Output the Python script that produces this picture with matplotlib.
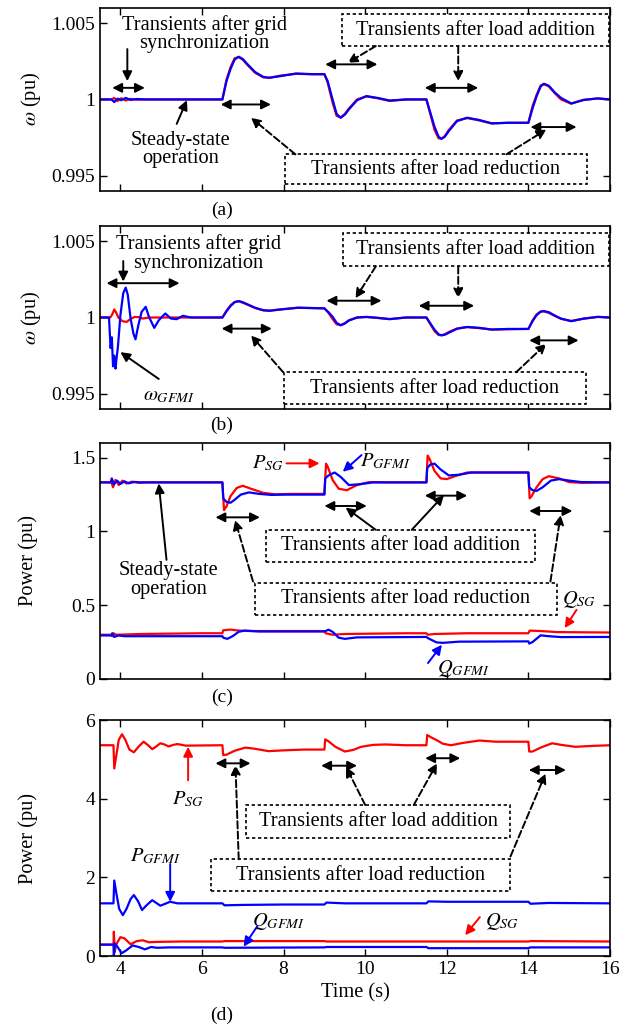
import matplotlib
matplotlib.use("Agg")
import matplotlib.pyplot as plt
from matplotlib.patches import Rectangle

plt.rcParams['font.family'] = ['Liberation Serif', 'DejaVu Serif']
plt.rcParams['mathtext.fontset'] = 'stix'
plt.rcParams['font.size'] = 14.7

# ---- data: (time s, value) ----
omega_a_sg = [(3.5, 1.0), (3.78, 1.0), (3.85, 1.0001), (3.93, 0.9999), (4.02, 1.00008), (4.13, 0.99993),
              (4.25, 1.00004), (4.4, 0.99998), (4.6, 1.0), (6.5, 1.0), (6.6, 1.0013), (6.7, 1.00212),
              (6.8, 1.0027), (6.9, 1.00278), (7.0, 1.0026), (7.1, 1.0023), (7.3, 1.00175), (7.5, 1.00145),
              (7.65, 1.00142), (7.9, 1.00155), (8.3, 1.00168), (8.7, 1.00165), (9.0, 1.00165), (9.08, 1.0011),
              (9.2, 0.9998), (9.3, 0.99892), (9.4, 0.99882), (9.5, 0.99905), (9.6, 0.9994), (9.8, 1.0),
              (10.03, 1.0002), (10.3, 1.00008), (10.6, 0.9999), (11.0, 1.0), (11.5, 1.0), (11.6, 0.999),
              (11.7, 0.998), (11.8, 0.99745), (11.87, 0.99742), (11.95, 0.9976), (12.05, 0.998), (12.25, 0.99862),
              (12.5, 0.99878), (12.8, 0.99862), (13.1, 0.99843), (13.5, 0.99847), (14.0, 0.99847), (14.1, 0.99955),
              (14.2, 1.0003), (14.3, 1.00092), (14.38, 1.001), (14.5, 1.00085), (14.65, 1.0004), (14.8, 1.0),
              (15.05, 0.99972), (15.35, 0.99998), (15.7, 1.00006), (16.0, 1.0)]
omega_a_gfmi = [(3.5, 1.0), (3.78, 1.0), (3.85, 0.99983), (3.93, 1.00005), (4.02, 0.99995), (4.13, 1.0001),
                (4.25, 0.99997), (4.4, 1.00003), (4.6, 1.0), (6.5, 1.0), (6.6, 1.0012), (6.7, 1.002),
                (6.8, 1.00262), (6.9, 1.0028), (7.0, 1.00265), (7.1, 1.00235), (7.3, 1.0018), (7.5, 1.00148),
                (7.65, 1.00142), (7.9, 1.00152), (8.3, 1.0017), (8.7, 1.00166), (9.0, 1.00166), (9.08, 1.0012),
                (9.2, 1.0), (9.3, 0.99905), (9.4, 0.9988), (9.5, 0.999), (9.6, 0.99935), (9.8, 0.99995),
                (10.03, 1.00022), (10.3, 1.0001), (10.6, 0.99993), (11.0, 1.0), (11.5, 1.0), (11.6, 0.9991),
                (11.7, 0.9982), (11.8, 0.99755), (11.87, 0.99742), (11.95, 0.99755), (12.05, 0.99793),
                (12.25, 0.99858), (12.5, 0.9988), (12.8, 0.99865), (13.1, 0.99843), (13.5, 0.99847),
                (14.0, 0.99847), (14.1, 0.9994), (14.2, 1.0002), (14.3, 1.00085), (14.38, 1.00103),
                (14.5, 1.0009), (14.65, 1.00045), (14.8, 1.0001), (15.05, 0.99974), (15.35, 0.99996),
                (15.7, 1.00007), (16.0, 1.0)]

omega_b_sg = [(3.5, 1.0), (3.75, 1.0), (3.8, 1.0002), (3.85, 1.00053), (3.9, 1.0003), (3.95, 1.0), (4.05, 0.99976),
              (4.15, 0.99971), (4.25, 0.9999), (4.35, 1.00004), (4.45, 1.00002), (4.55, 0.99993), (4.7, 1.0),
              (6.5, 1.0), (6.6, 1.00045), (6.7, 1.0008), (6.8, 1.00102), (6.9, 1.00106), (7.0, 1.00097),
              (7.15, 1.0008), (7.3, 1.00062), (7.5, 1.00047), (7.65, 1.00045), (7.95, 1.00054), (8.35, 1.00064),
              (9.0, 1.0006), (9.1, 1.0003), (9.2, 0.9999), (9.3, 0.99955), (9.4, 0.9995), (9.5, 0.99963),
              (9.6, 0.99982), (9.8, 1.0), (10.03, 1.00003), (10.3, 0.99997), (10.6, 0.9999), (11.0, 1.0),
              (11.5, 1.0), (11.6, 0.99955), (11.7, 0.9991), (11.8, 0.99885), (11.87, 0.99884), (11.95, 0.9989),
              (12.05, 0.99905), (12.25, 0.99928), (12.5, 0.99937), (12.8, 0.9993), (13.1, 0.99921),
              (14.0, 0.99925), (14.1, 0.9998), (14.2, 1.0002), (14.3, 1.0004), (14.38, 1.0004), (14.5, 1.0003),
              (14.65, 1.0001), (14.8, 0.99991), (15.05, 0.99977), (15.35, 0.99993), (15.7, 1.00004), (16.0, 1.0)]
omega_b_gfmi = [(3.5, 1.0), (3.72, 1.0), (3.76, 0.998), (3.79, 0.9987), (3.82, 0.9968), (3.85, 0.9975),
                (3.88, 0.99665), (3.9, 0.9972), (3.94, 0.9981), (4.0, 1.00015), (4.07, 1.0016), (4.13, 1.00196),
                (4.18, 1.0015), (4.25, 0.99993), (4.32, 0.99894), (4.37, 0.99857), (4.44, 0.99949),
                (4.52, 1.00037), (4.62, 1.0007), (4.7, 1.00004), (4.83, 0.99932), (4.94, 0.99982), (5.1, 1.00026),
                (5.24, 0.99993), (5.38, 0.99989), (5.53, 1.00011), (5.73, 1.0), (6.0, 1.0), (6.5, 1.0),
                (6.6, 1.0004), (6.7, 1.00075), (6.8, 1.001), (6.9, 1.00108), (7.0, 1.001), (7.15, 1.00082),
                (7.3, 1.00064), (7.5, 1.00048), (7.65, 1.00044), (7.95, 1.00053), (8.35, 1.00064), (9.0, 1.0006),
                (9.1, 1.00035), (9.2, 1.00005), (9.3, 0.99965), (9.4, 0.99949), (9.5, 0.9996), (9.6, 0.9998),
                (9.8, 1.0), (10.03, 1.00004), (10.3, 0.99998), (10.6, 0.99989), (11.0, 1.0), (11.5, 1.0),
                (11.6, 0.9996), (11.7, 0.9992), (11.8, 0.9989), (11.87, 0.99883), (11.95, 0.99887),
                (12.05, 0.999), (12.25, 0.99926), (12.5, 0.99938), (12.8, 0.99932), (13.1, 0.99921),
                (13.5, 0.99925), (14.0, 0.99925), (14.1, 0.99975), (14.2, 1.00015), (14.3, 1.00038),
                (14.38, 1.00042), (14.5, 1.00035), (14.65, 1.00012), (14.8, 0.99993), (15.05, 0.99976),
                (15.35, 0.99992), (15.7, 1.00004), (16.0, 1.0)]

p_c_sg = [(3.5, 1.333), (3.78, 1.333), (3.82, 1.30), (3.88, 1.35), (3.96, 1.315), (4.05, 1.345), (4.15, 1.325),
          (4.28, 1.338), (4.45, 1.33), (4.65, 1.333), (6.5, 1.333), (6.54, 1.145), (6.6, 1.17), (6.7, 1.24),
          (6.85, 1.295), (7.0, 1.31), (7.2, 1.29), (7.5, 1.262), (7.8, 1.252), (8.2, 1.255), (9.0, 1.255),
          (9.04, 1.46), (9.08, 1.44), (9.2, 1.35), (9.35, 1.29), (9.55, 1.28), (9.8, 1.315), (10.1, 1.335),
          (10.5, 1.333), (11.5, 1.333), (11.53, 1.515), (11.58, 1.49), (11.7, 1.41), (11.85, 1.36),
          (12.0, 1.355), (12.2, 1.375), (12.5, 1.40), (12.9, 1.40), (14.0, 1.40), (14.03, 1.225), (14.08, 1.24),
          (14.2, 1.30), (14.35, 1.355), (14.5, 1.375), (14.75, 1.36), (15.0, 1.335), (15.3, 1.33), (16.0, 1.333)]
p_c_gfmi = [(3.5, 1.333), (3.76, 1.333), (3.79, 1.36), (3.84, 1.32), (3.92, 1.345), (4.0, 1.322), (4.1, 1.34),
            (4.2, 1.327), (4.35, 1.336), (4.5, 1.333), (6.5, 1.333), (6.52, 1.225), (6.6, 1.2), (6.7, 1.195),
            (6.8, 1.215), (6.95, 1.25), (7.15, 1.265), (7.4, 1.255), (7.7, 1.248), (8.0, 1.25), (9.0, 1.25),
            (9.02, 1.36), (9.1, 1.38), (9.25, 1.40), (9.4, 1.37), (9.6, 1.315), (9.85, 1.32), (10.2, 1.333),
            (11.5, 1.333), (11.52, 1.43), (11.6, 1.455), (11.7, 1.46), (11.85, 1.42), (12.05, 1.38),
            (12.3, 1.385), (12.6, 1.40), (14.0, 1.40), (14.02, 1.30), (14.1, 1.28), (14.2, 1.275), (14.35, 1.30),
            (14.55, 1.345), (14.75, 1.355), (15.0, 1.345), (15.3, 1.335), (16.0, 1.333)]
q_c_sg = [(3.5, 0.30), (3.78, 0.30), (3.8, 0.29), (3.83, 0.31), (3.9, 0.30), (4.5, 0.305), (6.0, 0.31),
          (6.5, 0.31), (6.52, 0.33), (6.7, 0.335), (6.9, 0.328), (7.2, 0.325), (9.0, 0.325), (9.03, 0.31),
          (9.2, 0.30), (9.5, 0.305), (11.0, 0.31), (11.5, 0.31), (11.53, 0.30), (11.7, 0.305), (12.5, 0.31),
          (14.0, 0.31), (14.03, 0.328), (14.3, 0.325), (14.7, 0.318), (16.0, 0.315)]
q_c_gfmi = [(3.5, 0.295), (3.78, 0.295), (3.8, 0.31), (3.85, 0.285), (3.95, 0.295), (4.1, 0.29), (6.5, 0.29),
            (6.52, 0.28), (6.62, 0.272), (6.75, 0.29), (6.9, 0.32), (7.05, 0.328), (7.4, 0.322), (9.0, 0.322),
            (9.1, 0.334), (9.2, 0.32), (9.35, 0.28), (9.5, 0.272), (9.8, 0.282), (11.5, 0.285), (11.55, 0.275),
            (11.75, 0.248), (11.9, 0.245), (12.3, 0.253), (14.0, 0.255), (14.02, 0.24), (14.1, 0.25),
            (14.3, 0.296), (14.5, 0.29), (14.8, 0.284), (16.0, 0.285)]

p_d_sg = [(3.5, 5.36), (3.83, 5.36), (3.85, 4.77), (3.9, 5.1), (3.96, 5.5), (4.04, 5.64), (4.12, 5.5),
          (4.22, 5.25), (4.33, 5.18), (4.45, 5.33), (4.57, 5.45), (4.68, 5.36), (4.78, 5.26), (4.88, 5.33),
          (4.98, 5.41), (5.08, 5.38), (5.18, 5.33), (5.3, 5.37), (5.4, 5.39), (5.6, 5.35), (6.5, 5.36),
          (6.52, 5.11), (6.6, 5.12), (6.8, 5.22), (7.06, 5.3), (7.3, 5.27), (7.63, 5.21), (8.0, 5.23),
          (8.5, 5.25), (9.0, 5.25), (9.02, 5.51), (9.1, 5.46), (9.27, 5.32), (9.5, 5.2), (9.7, 5.24),
          (9.9, 5.32), (10.2, 5.37), (10.5, 5.38), (11.0, 5.36), (11.5, 5.36), (11.52, 5.62), (11.6, 5.57),
          (11.75, 5.49), (11.9, 5.4), (12.1, 5.36), (12.4, 5.42), (12.8, 5.48), (13.2, 5.45), (14.0, 5.45),
          (14.02, 5.2), (14.1, 5.2), (14.3, 5.3), (14.58, 5.41), (14.8, 5.37), (15.15, 5.32), (15.5, 5.34),
          (16.0, 5.36)]
p_d_gfmi = [(3.5, 1.34), (3.83, 1.34), (3.85, 1.92), (3.9, 1.6), (3.97, 1.2), (4.06, 1.04), (4.15, 1.2),
            (4.25, 1.45), (4.33, 1.55), (4.43, 1.4), (4.53, 1.17), (4.65, 1.3), (4.78, 1.42), (4.88, 1.35),
            (4.98, 1.28), (5.1, 1.33), (5.22, 1.38), (5.4, 1.34), (6.5, 1.34), (6.55, 1.29), (7.0, 1.3),
            (8.0, 1.31), (9.0, 1.31), (9.05, 1.36), (9.5, 1.34), (11.5, 1.34), (11.55, 1.39), (12.0, 1.38),
            (14.0, 1.38), (14.05, 1.33), (14.5, 1.35), (16.0, 1.34)]
q_d_sg = [(3.5, 0.29), (3.83, 0.29), (3.84, 0.62), (3.86, 0.1), (3.9, 0.3), (4.0, 0.48), (4.1, 0.45),
          (4.25, 0.3), (4.4, 0.38), (4.55, 0.4), (4.7, 0.35), (4.9, 0.36), (5.5, 0.37), (6.5, 0.37),
          (6.55, 0.38), (9.0, 0.38), (9.05, 0.37), (14.0, 0.37), (14.05, 0.38), (16.0, 0.37)]
q_d_gfmi = [(3.5, 0.29), (3.83, 0.29), (3.84, 0.0), (3.86, 0.32), (3.92, 0.25), (4.03, 0.07), (4.15, 0.15),
            (4.3, 0.27), (4.45, 0.23), (4.6, 0.17), (4.75, 0.23), (4.9, 0.21), (5.2, 0.22), (6.5, 0.22),
            (6.55, 0.21), (9.0, 0.22), (9.05, 0.23), (11.5, 0.23), (11.55, 0.2), (14.0, 0.2), (14.05, 0.22),
            (16.0, 0.22)]

x_ticks = [4, 6, 8, 10, 12, 14, 16]
add_txt = 'Transients after load addition'
red_txt = 'Transients after load reduction'
sync_txt = 'Transients after grid\nsynchronization'
steady_txt = 'Steady-state\noperation'


def series(ax, data, color, lw=1.6):
    t = [p[0] for p in data]
    v = [p[1] for p in data]
    ax.plot(t, v, color=color, lw=lw)


def arrow(ax, start, end, color='k', ls='-', both=False):
    style = '<|-|>' if both else '-|>'
    ax.annotate('', xy=end, xytext=start,
                arrowprops=dict(arrowstyle=style, color=color, lw=1.4, linestyle=ls,
                                mutation_scale=14, shrinkA=0, shrinkB=0), zorder=6)


def dbox(ax, x0, y0, x1, y1, text):
    ax.add_patch(Rectangle((x0, y0), x1 - x0, y1 - y0, fill=True, fc='white', ec='k',
                           lw=1.2, ls=(0, (2, 1.6)), zorder=5))
    ax.text((x0 + x1) / 2, (y0 + y1) / 2, text, ha='center', va='center', zorder=7)


fig = plt.figure(figsize=(6.25, 10.3), dpi=100)
rects = [(0.16, 0.8146, 0.816, 0.1777), (0.16, 0.6029, 0.816, 0.1777),
         (0.16, 0.3408, 0.816, 0.2291), (0.16, 0.0718, 0.816, 0.2291)]
axs = [fig.add_axes(r) for r in rects]

for ax in axs:
    ax.set_xlim(3.5, 16)
    ax.set_xticks(x_ticks)
    ax.tick_params(direction='in', top=True, right=True, length=5, width=1, labelsize=14)
    for s in ax.spines.values():
        s.set_linewidth(1.2)
for ax in axs[:3]:
    ax.set_xticklabels([])

# (a)
ax = axs[0]
series(ax, omega_a_sg, 'red')
series(ax, omega_a_gfmi, 'blue')
ax.set_ylim(0.994, 1.006)
ax.set_yticks([0.995, 1, 1.005])
ax.set_yticklabels(['0.995', '1', '1.005'])
ax.set_ylabel(r'$\omega$ (pu)', labelpad=6)
ax.text(6.05, 1.0043, sync_txt, ha='center', va='center', linespacing=0.95)
arrow(ax, (4.17, 1.0033), (4.17, 1.0012))
arrow(ax, (3.8, 1.00076), (4.6, 1.00076), both=True)
ax.text(5.48, 0.9967, steady_txt, ha='center', va='center', linespacing=0.95)
arrow(ax, (5.38, 0.9984), (5.63, 0.99995))
dbox(ax, 9.42, 1.0035, 15.97, 1.00557, add_txt)
arrow(ax, (9.02, 1.0023), (10.3, 1.0023), both=True)
arrow(ax, (11.46, 1.00076), (12.77, 1.00076), both=True)
arrow(ax, (6.46, 0.99967), (7.69, 0.99967), both=True)
arrow(ax, (14.05, 0.99819), (15.18, 0.99819), both=True)
arrow(ax, (10.26, 1.0035), (9.57, 1.0024), ls='--')
arrow(ax, (12.28, 1.0035), (12.28, 1.0012), ls='--')
dbox(ax, 8.04, 0.99443, 15.43, 0.9964, red_txt)
arrow(ax, (8.29, 0.9964), (7.2, 0.9988), ls='--')
arrow(ax, (13.46, 0.9964), (14.44, 0.99803), ls='--')

# (b)
ax = axs[1]
series(ax, omega_b_sg, 'red')
series(ax, omega_b_gfmi, 'blue')
ax.set_ylim(0.994, 1.006)
ax.set_yticks([0.995, 1, 1.005])
ax.set_yticklabels(['0.995', '1', '1.005'])
ax.set_ylabel(r'$\omega$ (pu)', labelpad=6)
ax.text(5.92, 1.0042, sync_txt, ha='center', va='center', linespacing=0.95)
arrow(ax, (4.07, 1.0037), (4.07, 1.00236))
arrow(ax, (3.66, 1.00225), (5.45, 1.00225), both=True)
ax.text(5.2, 0.99487, r'$\omega_{GFMI}$', ha='center', va='center')
arrow(ax, (4.94, 0.99597), (4.0, 0.99773))
dbox(ax, 9.45, 1.00335, 15.97, 1.00555, add_txt)
arrow(ax, (9.05, 1.0011), (10.4, 1.0011), both=True)
arrow(ax, (11.31, 1.00077), (12.67, 1.00077), both=True)
arrow(ax, (6.48, 0.99927), (7.71, 0.99927), both=True)
arrow(ax, (14.02, 0.9985), (15.23, 0.9985), both=True)
arrow(ax, (10.26, 1.00335), (9.76, 1.00126), ls='--')
arrow(ax, (12.28, 1.00335), (12.28, 1.00126), ls='--')
dbox(ax, 8.01, 0.99432, 15.4, 0.99641, red_txt)
arrow(ax, (7.99, 0.99641), (7.2, 0.99883), ls='--')
arrow(ax, (13.7, 0.99641), (14.44, 0.99828), ls='--')

# (c)
ax = axs[2]
series(ax, q_c_sg, 'red')
series(ax, q_c_gfmi, 'blue')
series(ax, p_c_sg, 'red')
series(ax, p_c_gfmi, 'blue')
ax.set_ylim(0, 1.6)
ax.set_yticks([0, 0.5, 1, 1.5])
ax.set_yticklabels(['0', '0.5', '1', '1.5'])
ax.set_ylabel('Power (pu)', labelpad=24)
ax.text(7.62, 1.462, r'$P_{SG}$', ha='center', va='center')
arrow(ax, (8.07, 1.462), (8.88, 1.462), color='red')
ax.text(10.5, 1.473, r'$P_{GFMI}$', ha='center', va='center')
arrow(ax, (9.91, 1.518), (9.45, 1.405), color='blue')
arrow(ax, (6.33, 1.096), (7.42, 1.096), both=True)
arrow(ax, (9.0, 1.173), (10.04, 1.173), both=True)
arrow(ax, (11.46, 1.243), (12.5, 1.243), both=True)
arrow(ax, (14.02, 1.139), (15.08, 1.139), both=True)
ax.text(5.18, 0.672, steady_txt, ha='center', va='center', linespacing=0.95)
arrow(ax, (5.13, 0.808), (4.94, 1.326))
dbox(ax, 7.58, 0.796, 14.15, 1.011, add_txt)
arrow(ax, (10.26, 1.011), (9.52, 1.162))
arrow(ax, (11.14, 1.011), (11.93, 1.247))
dbox(ax, 7.3, 0.435, 14.69, 0.65, red_txt)
arrow(ax, (7.25, 0.661), (6.81, 1.078), ls='--')
arrow(ax, (14.54, 0.661), (14.79, 1.112), ls='--')
ax.text(15.23, 0.537, r'$Q_{SG}$', ha='center', va='center')
arrow(ax, (15.18, 0.469), (14.89, 0.345), color='red')
ax.text(12.42, 0.074, r'$Q_{GFMI}$', ha='center', va='center')
arrow(ax, (11.54, 0.108), (11.88, 0.232), color='blue')

# (d)
ax = axs[3]
series(ax, q_d_sg, 'red')
series(ax, q_d_gfmi, 'blue')
series(ax, p_d_sg, 'red')
series(ax, p_d_gfmi, 'blue')
ax.set_ylim(0, 6)
ax.set_yticks([0, 2, 4, 6])
ax.set_ylabel('Power (pu)', labelpad=34)
ax.set_xlabel('Time (s)', labelpad=4)
ax.text(5.66, 3.99, r'$P_{SG}$', ha='center', va='center')
arrow(ax, (5.66, 4.47), (5.66, 5.32), color='red')
arrow(ax, (6.33, 4.9), (7.19, 4.9), both=True)
arrow(ax, (8.92, 4.84), (9.8, 4.84), both=True)
arrow(ax, (11.47, 5.03), (12.33, 5.03), both=True)
arrow(ax, (14.01, 4.73), (14.92, 4.73), both=True)
dbox(ax, 7.08, 3.0, 13.56, 3.84, add_txt)
arrow(ax, (10.0, 3.84), (9.53, 4.81), ls='--')
arrow(ax, (11.19, 3.84), (11.76, 4.9), ls='--')
dbox(ax, 6.23, 1.66, 13.56, 2.46, red_txt)
arrow(ax, (6.9, 2.46), (6.82, 4.86), ls='--')
arrow(ax, (13.56, 2.53), (14.42, 4.64), ls='--')
ax.text(4.86, 2.53, r'$P_{GFMI}$', ha='center', va='center')
arrow(ax, (5.22, 2.34), (5.22, 1.38), color='blue')
ax.text(7.88, 0.89, r'$Q_{GFMI}$', ha='center', va='center')
arrow(ax, (7.35, 0.75), (7.02, 0.24), color='blue')
ax.text(13.35, 0.89, r'$Q_{SG}$', ha='center', va='center')
arrow(ax, (12.81, 0.99), (12.45, 0.53), color='red')

for lab, ypix in zip(['(a)', '(b)', '(c)', '(d)'], [210, 425, 697, 1015]):
    fig.text(0.355, 1 - ypix / 1030, lab, ha='center', va='center', fontsize=14)

fig.savefig('out.png', dpi=100)
